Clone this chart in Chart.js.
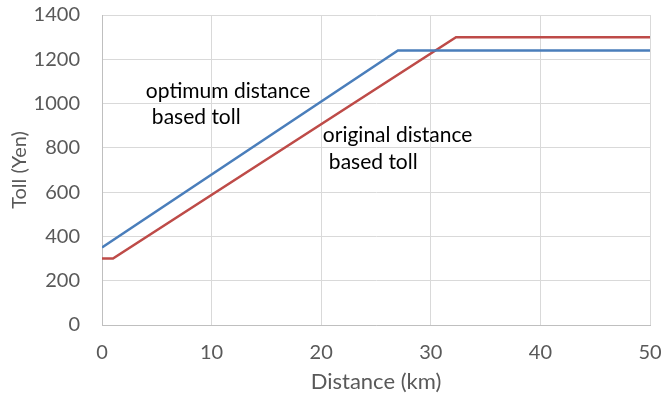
<!DOCTYPE html>
<html>
<head>
<meta charset="utf-8">
<script src="https://cdn.jsdelivr.net/npm/chart.js@4/dist/chart.umd.min.js"></script>
<style>
  html, body { margin: 0; padding: 0; background: #fff; }
  #wrap { width: 662px; height: 398px; position: relative; }
</style>
</head>
<body>
<div id="wrap"><canvas id="c" width="662" height="398"></canvas></div>
<script>
// Toll schedules: distance (km) vs toll (Yen)
const optimumDistance = [0, 27, 50];
const optimumToll = [350, 1240, 1240];
const originalDistance = [0, 1, 32.3, 50];
const originalToll = [300, 300, 1300, 1300];

const xTicks = [0, 10, 20, 30, 40, 50];
const yTicks = [0, 200, 400, 600, 800, 1000, 1200, 1400];

// In-plot labels, anchored in data units (x km, y Yen)
const labelLines = [
  { text: 'optimum distance', x: 4.0, y: 1055 },
  { text: 'based toll', x: 4.55, y: 937 },
  { text: 'original distance', x: 20.15, y: 855 },
  { text: 'based toll', x: 20.7, y: 737 }
];

const FONT = 'Lato, "Open Sans", sans-serif';

const toPoints = (xs, ys) => xs.map((x, i) => ({ x, y: ys[i] }));

const labelPlugin = {
  id: 'lineLabels',
  afterDatasetsDraw(chart) {
    const { ctx, scales } = chart;
    ctx.save();
    ctx.fillStyle = '#000';
    ctx.font = '21px ' + FONT;
    ctx.textAlign = 'left';
    ctx.textBaseline = 'middle';
    labelLines.forEach(l => {
      ctx.fillText(l.text, scales.x.getPixelForValue(l.x), scales.y.getPixelForValue(l.y));
    });
    ctx.restore();
  }
};

new Chart(document.getElementById('c'), {
  type: 'scatter',
  data: {
    datasets: [
      {
        label: 'optimum distance based toll',
        data: toPoints(optimumDistance, optimumToll),
        showLine: true,
        borderColor: '#4A7EBB',
        borderWidth: 2.5,
        pointRadius: 0,
        fill: false,
        tension: 0
      },
      {
        label: 'original distance based toll',
        data: toPoints(originalDistance, originalToll),
        showLine: true,
        borderColor: '#BE4B48',
        borderWidth: 2.5,
        pointRadius: 0,
        fill: false,
        tension: 0
      }
    ]
  },
  options: {
    responsive: false,
    animation: false,
    layout: { padding: { top: 15, right: 12, left: 0, bottom: 0 } },
    plugins: { legend: { display: false }, tooltip: { enabled: false } },
    scales: {
      x: {
        type: 'linear',
        min: 0, max: 50,
        afterBuildTicks: s => { s.ticks = xTicks.map(v => ({ value: v })); },
        afterFit: s => { s.height = 73; s.paddingLeft = 0; s.paddingRight = 0; },
        grid: { color: '#D9D9D9', lineWidth: 1, drawTicks: false },
        border: { color: '#BFBFBF', width: 1 },
        ticks: { color: '#595959', font: { family: FONT, size: 20 }, padding: 16, callback: v => String(v) },
        title: { display: true, text: 'Distance (km)', color: '#595959', font: { family: FONT, size: 22 }, padding: { top: 0, bottom: 3 } }
      },
      y: {
        type: 'linear',
        min: 0, max: 1400,
        afterBuildTicks: s => { s.ticks = yTicks.map(v => ({ value: v })); },
        afterFit: s => { s.width = 102; s.paddingTop = 0; s.paddingBottom = 0; },
        grid: { color: '#D9D9D9', lineWidth: 1, drawTicks: false },
        border: { color: '#BFBFBF', width: 1 },
        ticks: { color: '#595959', font: { family: FONT, size: 20 }, padding: 22, callback: v => String(v) },
        title: { display: true, text: 'Toll (Yen)', color: '#595959', font: { family: FONT, size: 20 }, padding: { top: 8, bottom: 0 } }
      }
    }
  },
  plugins: [labelPlugin]
});
</script>
</body>
</html>
